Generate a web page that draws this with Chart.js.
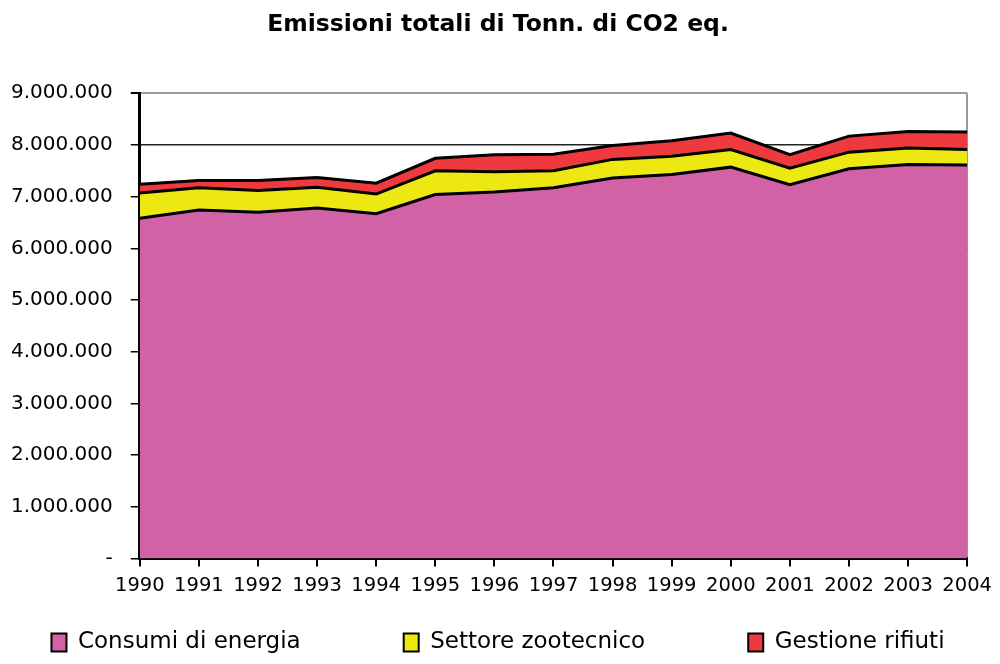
<!DOCTYPE html>
<html>
<head>
<meta charset="utf-8">
<title>Emissioni totali</title>
<script src="https://cdn.jsdelivr.net/npm/chart.js"></script>
<style>
body{margin:0;background:#fff;}
#wrap{width:1000px;height:664px;}
</style>
</head>
<body>
<div id="wrap"><canvas id="chart" width="1000" height="664"></canvas></div>
<script>
const years=["1990","1991","1992","1993","1994","1995","1996","1997","1998","1999","2000","2001","2002","2003","2004"];
const consumiEnergia=[6580000,6740000,6700000,6780000,6670000,7040000,7090000,7170000,7360000,7430000,7570000,7230000,7540000,7620000,7610000];
const settoreZootecnico=[490000,430000,420000,400000,380000,460000,390000,330000,360000,350000,340000,320000,320000,320000,300000];
const gestioneRifiuti=[170000,140000,190000,190000,210000,240000,330000,320000,270000,300000,320000,260000,310000,320000,340000];
const yMax=9000000;
const yStep=1000000;
const FONT="DejaVu Sans, Liberation Sans, sans-serif";

function fmt(v){
if(v===0)return "-";
return String(v).replace(/\B(?=(\d{3})+(?!\d))/g,".");
}

// wide gaps between legend items without a huge legend height
const gap="\u00a0".repeat(13);

new Chart(document.getElementById("chart"),{
type:"line",
data:{
labels:years,
datasets:[
{label:"Consumi di energia",data:consumiEnergia,backgroundColor:"#d062a5",borderColor:"#000",borderWidth:3,fill:"origin",pointRadius:0,tension:0},
{label:"Settore zootecnico",data:settoreZootecnico,backgroundColor:"#eee812",borderColor:"#000",borderWidth:3,fill:"-1",pointRadius:0,tension:0},
{label:"Gestione rifiuti",data:gestioneRifiuti,backgroundColor:"#ee3a3e",borderColor:"#000",borderWidth:3,fill:"-1",pointRadius:0,tension:0}
]
},
options:{
responsive:false,
animation:false,
layout:{padding:{left:-7,right:-3,top:0,bottom:0}},
plugins:{
title:{display:true,text:"Emissioni totali di Tonn. di CO2 eq.",color:"#000",
font:{family:FONT,size:23.5,weight:"bold"},padding:{top:11,bottom:54}},
legend:{position:"bottom",
labels:{color:"#000",boxWidth:15,boxHeight:18,padding:8,
font:{family:FONT,size:23},
generateLabels:(chart)=>{
const items=Chart.defaults.plugins.legend.labels.generateLabels(chart);
items.forEach((it,i)=>{it.lineWidth=2;if(i<items.length-1)it.text=it.text+gap;});
return items;
}}},
tooltip:{enabled:false}
},
scales:{
x:{
offset:false,
afterFit:(s)=>{s.height+=17;},
grid:{drawOnChartArea:true,tickLength:8,
color:(c)=>c.index===years.length-1?"#999":"rgba(0,0,0,0)",
tickColor:"#000",lineWidth:2},
border:{color:"#000",width:3},
ticks:{color:"#000",maxRotation:0,autoSkip:false,padding:8,font:{family:FONT,size:19.5}}
},
y:{
stacked:true,min:0,max:yMax,
grid:{tickLength:9,color:(c)=>c.tick.value===yMax?"#999":"#222",tickColor:"#000",lineWidth:(c)=>c.tick.value===yMax?2:1.5},
border:{color:"#000",width:3},
ticks:{stepSize:yStep,color:"#000",padding:18,callback:(v)=>fmt(v),
font:{family:FONT,size:20}}
}
}
}
});
</script>
</body>
</html>
